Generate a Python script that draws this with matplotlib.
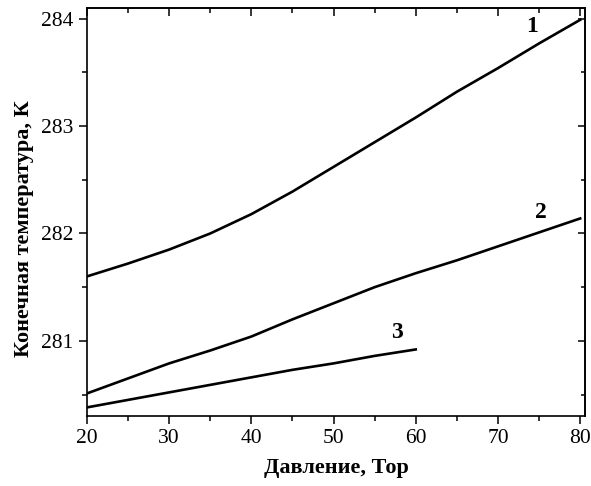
import numpy as np
import matplotlib
matplotlib.use('Agg')
import matplotlib.pyplot as plt

plt.rcParams['font.family'] = ['Liberation Serif', 'DejaVu Serif']

# pressure, Torr
p = [20, 25, 30, 35, 40, 45, 50, 55, 60, 65, 70, 75, 80]
t1 = [281.60, 281.72, 281.85, 282.00, 282.18, 282.39, 282.62, 282.85, 283.08, 283.32, 283.54, 283.77, 283.99]
t2 = [280.51, 280.65, 280.79, 280.91, 281.04, 281.20, 281.35, 281.50, 281.63, 281.75, 281.88, 282.01, 282.14]
p3 = [20, 25, 30, 35, 40, 45, 50, 55, 60]
t3 = [280.38, 280.45, 280.52, 280.59, 280.66, 280.73, 280.79, 280.86, 280.92]

labels = ['1', '2', '3']
label_pos = [(74.2, 283.93), (75.2, 282.20), (57.7, 281.08)]

fig = plt.figure(figsize=(5.91, 4.86), dpi=100)
ax = fig.add_axes([0.147, 0.144, 0.843, 0.8395])

lw = 1.9
ax.plot(p, t1, color='black', lw=lw)
ax.plot(p, t2, color='black', lw=lw)
ax.plot(p3, t3, color='black', lw=lw)

for lab, (x, y) in zip(labels, label_pos):
    ax.text(x, y, lab, fontsize=17, fontweight='bold', ha='center', va='center')

ax.set_xlim(20, 80.6)
ax.set_ylim(280.3, 284.1)
ax.set_xticks([20, 30, 40, 50, 60, 70, 80])
ax.set_yticks([281, 282, 283, 284])
ax.set_xticks(np.arange(25, 81, 10), minor=True)
ax.set_yticks([280.5, 281.5, 282.5, 283.5], minor=True)

ax.tick_params(which='major', direction='out', length=6, width=1.1, labelsize=15.5)
ax.tick_params(which='minor', direction='out', length=3.5, width=1.1)
for s in ax.spines.values():
    s.set_linewidth(1.2)

# inward ticks on top and right
top = ax.secondary_xaxis('top')
top.set_xticks([20, 30, 40, 50, 60, 70, 80])
top.set_xticks(np.arange(25, 81, 10), minor=True)
top.tick_params(which='major', direction='in', length=6, width=1.1, labeltop=False)
top.tick_params(which='minor', direction='in', length=3.5, width=1.1)
top.spines['top'].set_linewidth(1.2)
right = ax.secondary_yaxis('right')
right.set_yticks([281, 282, 283, 284])
right.set_yticks([280.5, 281.5, 282.5, 283.5], minor=True)
right.tick_params(which='major', direction='in', length=5, width=1.1, labelright=False)
right.tick_params(which='minor', direction='in', length=3, width=1.1)
right.spines['right'].set_linewidth(1.2)

ax.set_xlabel('Давление, Тор', fontsize=16, fontweight='bold', labelpad=7)
ax.set_ylabel('Конечная температура, К', fontsize=16, fontweight='bold')
ax.yaxis.set_label_coords(-0.106, 0.46)

fig.savefig('out.png', dpi=100)
